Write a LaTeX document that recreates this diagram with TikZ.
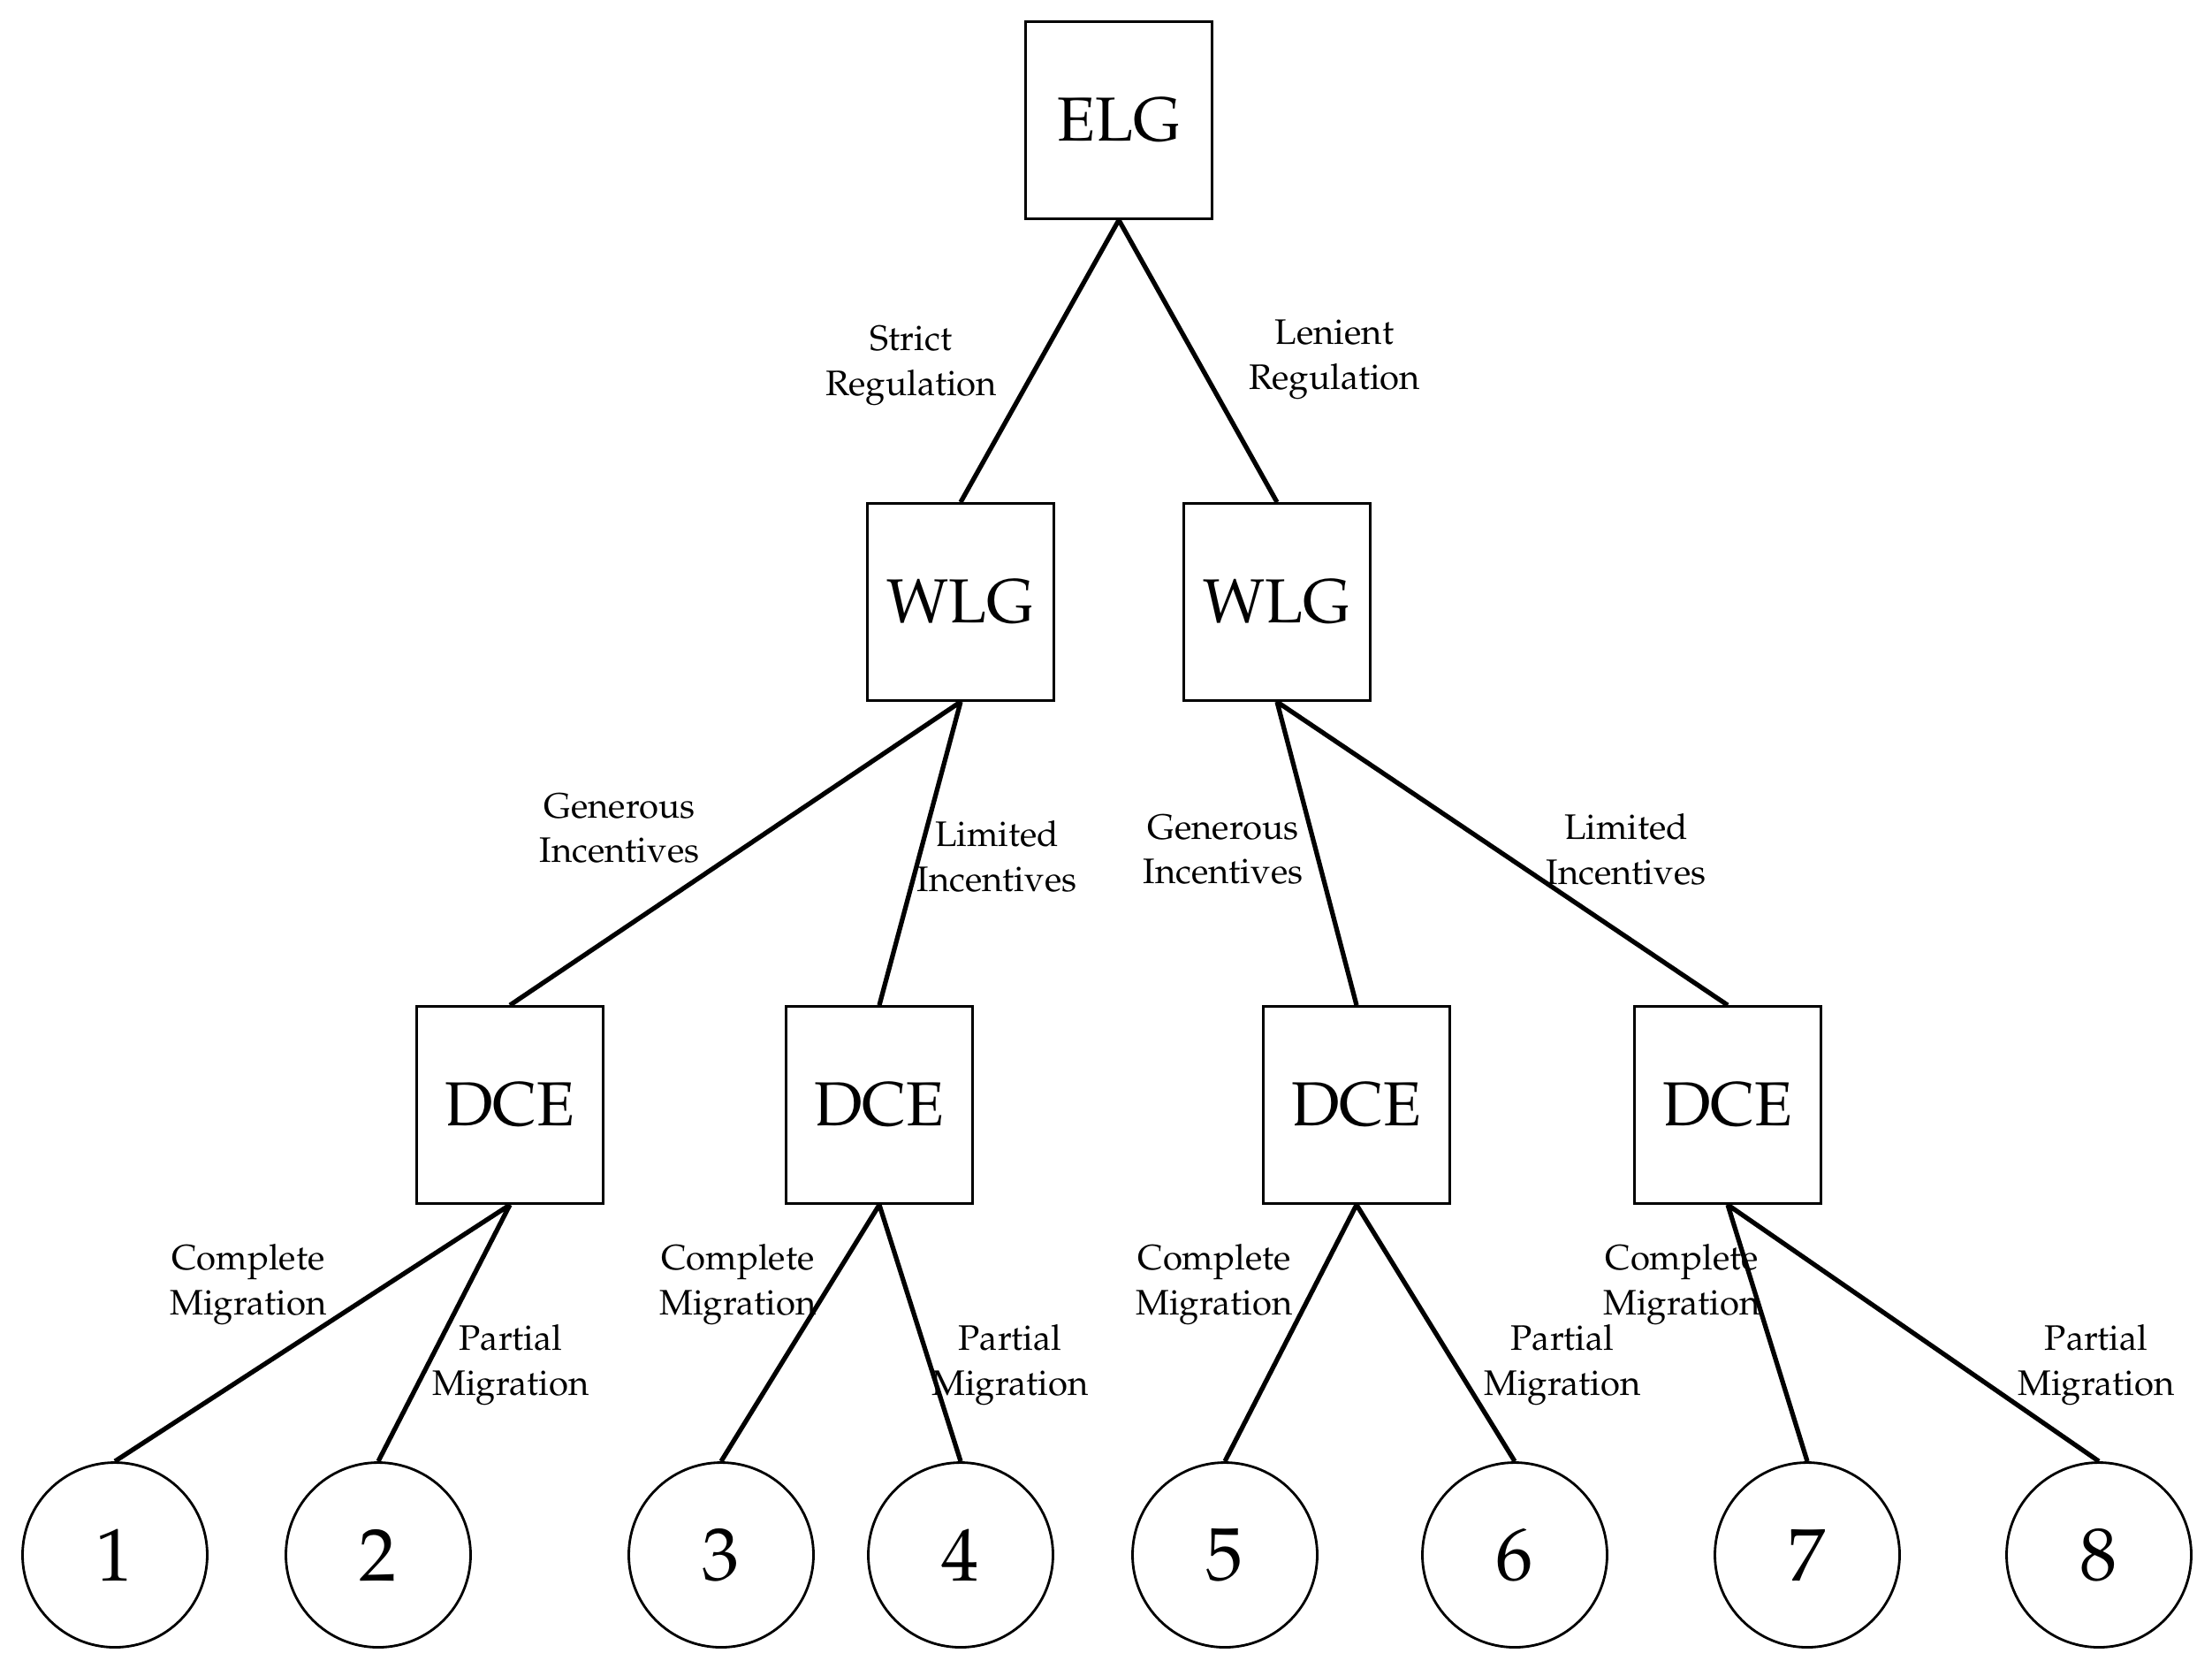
\documentclass[tikz,border=0pt]{standalone}
\usepackage[T1]{fontenc}
\usepackage{mathpazo}
\begin{document}
\begin{tikzpicture}[
    box/.style={rectangle,draw,line width=0.8pt,minimum width=2.11cm,minimum height=2.23cm,inner sep=0pt,font=\fontsize{20}{24}\selectfont},
    leaf/.style={circle,draw,line width=0.8pt,minimum size=2.09cm,inner sep=0pt,font=\fontsize{24}{28}\selectfont},
    choice/.style={align=center,inner sep=0pt,font=\fontsize{11.4}{14.5}\selectfont},
    branch/.style={line width=1.5pt}]
    \useasboundingbox (0,0) rectangle (25.03,-18.95);
    % decision nodes
    \node[box] (elg) at (12.66,-1.36) {ELG};
    \node[box] (wlgS) at (10.87,-6.81) {WLG};
    \node[box] (wlgL) at (14.45,-6.81) {WLG};
    \node[box] (dce1) at (5.77,-12.50) {DCE};
    \node[box] (dce2) at (9.95,-12.50) {DCE};
    \node[box] (dce3) at (15.35,-12.50) {DCE};
    \node[box] (dce4) at (19.55,-12.50) {DCE};
    % outcomes
    \foreach \n/\x in {1/1.30,2/4.28,3/8.16,4/10.87,5/13.86,6/17.14,7/20.45,8/23.75}
        \node[leaf] (o\n) at (\x,-17.59) {\n};
    % branches
    \draw[branch] (elg.south) -- (wlgS.north) (elg.south) -- (wlgL.north);
    \draw[branch] (wlgS.south) -- (dce1.north) (wlgS.south) -- (dce2.north);
    \draw[branch] (wlgL.south) -- (dce3.north) (wlgL.south) -- (dce4.north);
    \draw[branch] (dce1.south) -- (o1.north) (dce1.south) -- (o2.north);
    \draw[branch] (dce2.south) -- (o3.north) (dce2.south) -- (o4.north);
    \draw[branch] (dce3.south) -- (o5.north) (dce3.south) -- (o6.north);
    \draw[branch] (dce4.south) -- (o7.north) (dce4.south) -- (o8.north);
    % branch labels
    \node[choice] (strict) at (10.31,-4.14) {Strict\\Regulation};
    \node[choice] (lenient) at (15.10,-4.07) {Lenient\\Regulation};
    \node[choice] (genS) at (7.01,-9.37) {Generous\\Incentives};
    \node[choice] (limS) at (11.28,-9.69) {Limited\\Incentives};
    \node[choice] (genL) at (13.84,-9.61) {Generous\\Incentives};
    \node[choice] (limL) at (18.40,-9.61) {Limited\\Incentives};
    \foreach \i/\cx/\px in {1/2.81/5.78,2/8.35/11.43,3/13.74/17.68,4/19.03/23.72}{
        \node[choice] (comp\i) at (\cx,-14.53) {Complete\\Migration};
        \node[choice] (part\i) at (\px,-15.44) {Partial\\Migration};
    }
\end{tikzpicture}
\end{document}
